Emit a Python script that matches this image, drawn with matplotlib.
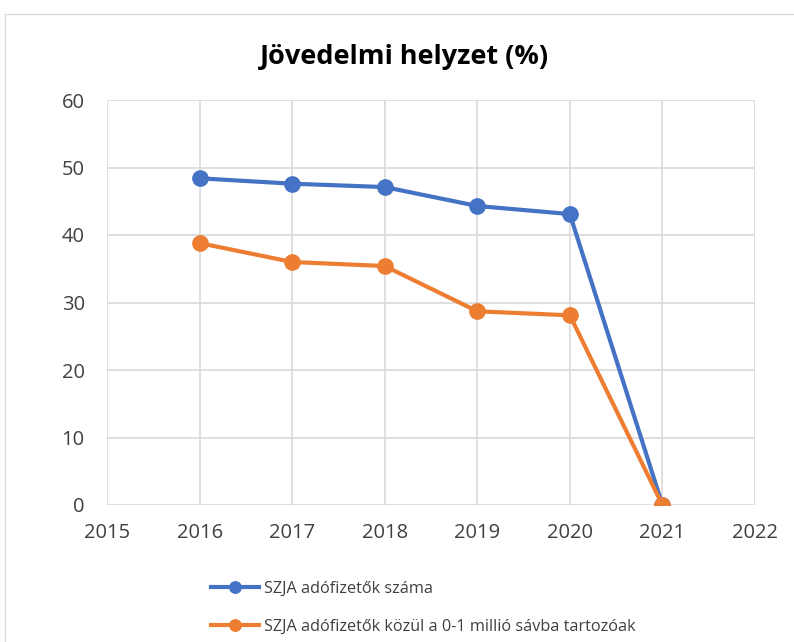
import matplotlib.pyplot as plt
from matplotlib.patches import Rectangle

years = [2016, 2017, 2018, 2019, 2020, 2021]
szja_count = [48.4, 47.6, 47.1, 44.3, 43.1, 0.0]
szja_low_band = [38.8, 36.0, 35.4, 28.7, 28.1, 0.0]
labels = ["SZJA adófizetők száma", "SZJA adófizetők közül a 0-1 millió sávba tartozóak"]

plt.rcParams["font.family"] = ["Open Sans", "DejaVu Sans"]

fig = plt.figure(figsize=(7.94, 6.42), dpi=100)
fig.patches.append(Rectangle((5 / 794, -0.1), 1.2, 1 - 14 / 642 + 0.1, transform=fig.transFigure,
                             fill=False, edgecolor="#d9d9d9", linewidth=1))
ax = fig.add_axes([107 / 794, 1 - 505 / 642, (755 - 107) / 794, (505 - 100) / 642])

blue = "#4472c4"
orange = "#ed7d31"
l1, = ax.plot(years, szja_count, color=blue, lw=3, marker="o", ms=11, zorder=3)
l2, = ax.plot(years, szja_low_band, color=orange, lw=3, marker="o", ms=11, zorder=3)

ax.set_xlim(2015, 2022)
ax.set_ylim(0, 60)
ax.set_xticks(range(2015, 2023))
ax.set_yticks(range(0, 61, 10))
ax.grid(True, color="#d9d9d9", lw=1.2)
ax.set_axisbelow(True)
for s in ax.spines.values():
    s.set_visible(False)
ax.tick_params(length=0, labelsize=14.5, labelcolor="#404040")
ax.tick_params(axis="x", pad=13)
ax.tick_params(axis="y", pad=16)

fig.text(405 / 794, 1 - 57 / 642, "Jövedelmi helyzet (%)", ha="center", va="center",
         fontsize=19.5, fontweight="bold", color="black")

fig.legend([l1, l2], labels, loc="upper left", bbox_to_anchor=(196 / 794, 1 - 566 / 642),
           frameon=False, fontsize=11.7, labelcolor="#404040", handlelength=3.0,
           labelspacing=1.35, markerscale=0.75, handletextpad=0.3)

fig.savefig("out.png", dpi=100)
